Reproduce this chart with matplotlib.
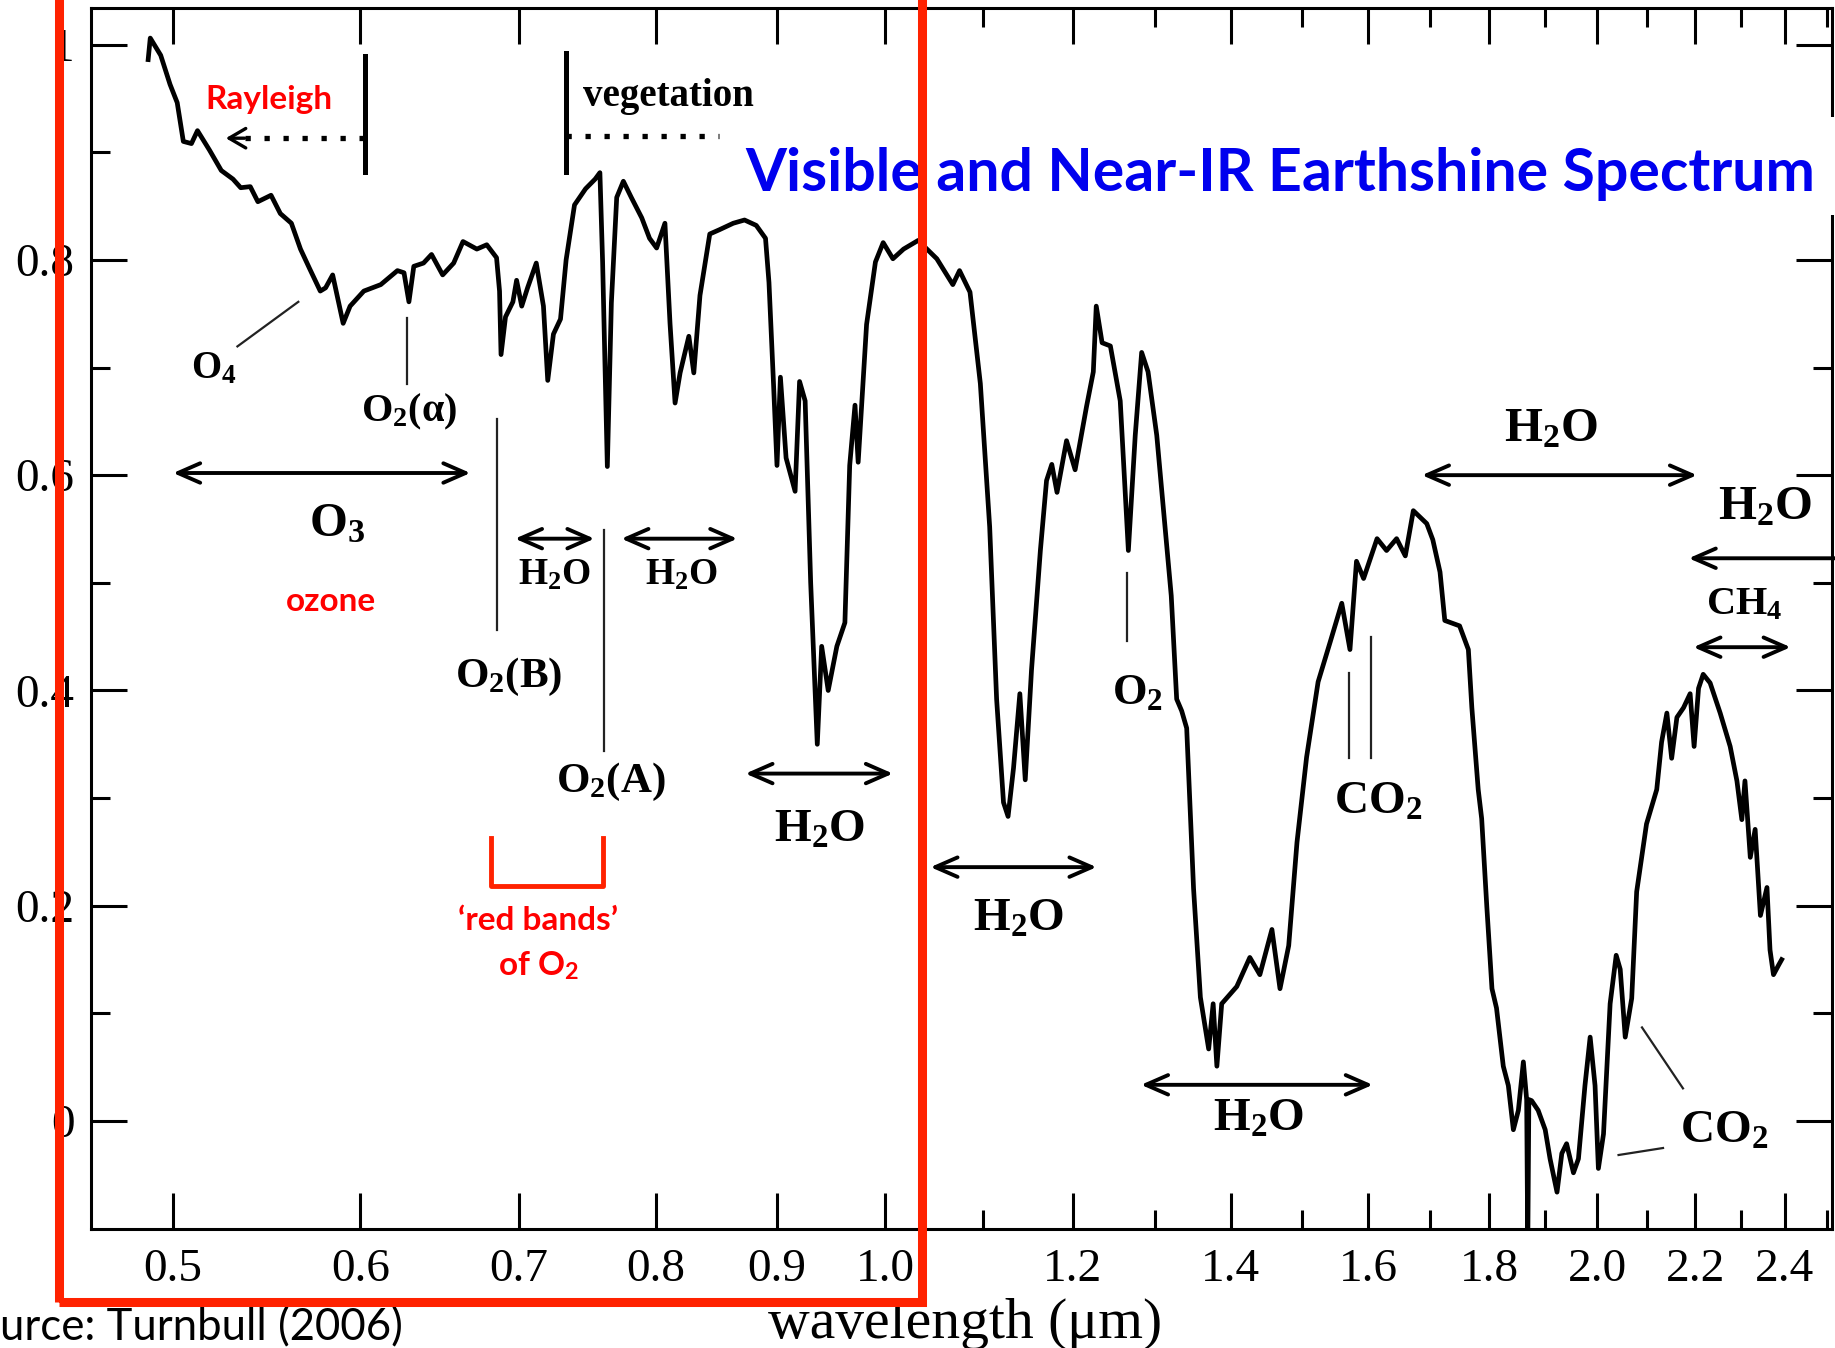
import numpy as np
import matplotlib
matplotlib.use("Agg")
import matplotlib.pyplot as plt
from matplotlib.patches import Rectangle
from matplotlib.ticker import FixedLocator, FixedFormatter, NullFormatter

wavelength = [
    0.488, 0.489, 0.494, 0.4985, 0.502, 0.505, 0.509, 0.512, 0.518, 0.524, 0.530, 0.534, 0.539, 0.543, 0.550,
    0.555, 0.561, 0.566, 0.571, 0.577, 0.580, 0.584, 0.590, 0.594, 0.602, 0.612, 0.622, 0.626, 0.629, 0.632,
    0.638, 0.643, 0.650, 0.657, 0.663, 0.672, 0.6785, 0.685, 0.687, 0.688, 0.691, 0.696, 0.6985, 0.702, 0.706,
    0.712, 0.717, 0.720, 0.724, 0.729, 0.733, 0.739, 0.747, 0.754, 0.7575, 0.7595, 0.763, 0.766, 0.770, 0.775,
    0.781, 0.789, 0.795, 0.8005, 0.807, 0.811, 0.815, 0.819, 0.826, 0.830, 0.835, 0.843, 0.851, 0.8625, 0.872,
    0.882, 0.890, 0.893, 0.897, 0.900, 0.903, 0.908, 0.916, 0.920, 0.925, 0.930, 0.936, 0.940, 0.946, 0.954,
    0.9615, 0.966, 0.971, 0.974, 0.982, 0.9905, 0.998, 1.0075, 1.018, 1.0325, 1.0515, 1.068, 1.075, 1.086, 1.097,
    1.107, 1.1145, 1.122, 1.127, 1.133, 1.140, 1.146, 1.153, 1.163, 1.170, 1.176, 1.182, 1.193, 1.203, 1.2165,
    1.2245, 1.228, 1.235, 1.245, 1.257, 1.267, 1.2755, 1.2835, 1.2915, 1.3025, 1.313, 1.321, 1.328, 1.3345, 1.341,
    1.350, 1.359, 1.370, 1.376, 1.381, 1.3875, 1.408, 1.426, 1.440, 1.457, 1.4685, 1.481, 1.493, 1.507, 1.524,
    1.542, 1.5595, 1.572, 1.582, 1.593, 1.614, 1.629, 1.645, 1.659, 1.672, 1.694, 1.704, 1.716, 1.724, 1.749,
    1.764, 1.770, 1.781, 1.787, 1.796, 1.805, 1.813, 1.825, 1.834, 1.843, 1.852, 1.861, 1.867, 1.869, 1.871,
    1.876, 1.888, 1.901, 1.910, 1.923, 1.932, 1.941, 1.954, 1.9635, 1.976, 1.986, 1.9955, 2.002, 2.012, 2.025,
    2.037, 2.045, 2.055, 2.068, 2.078, 2.098, 2.119, 2.129, 2.140, 2.150, 2.161, 2.175, 2.189, 2.1975, 2.207,
    2.217, 2.232, 2.254, 2.276, 2.291, 2.302, 2.309, 2.321, 2.332, 2.344, 2.359, 2.366, 2.374, 2.386, 2.393,
]
reflectance = [
    0.986, 1.006, 0.990, 0.963, 0.946, 0.910, 0.908, 0.920, 0.902, 0.883, 0.875, 0.867, 0.868, 0.854, 0.860,
    0.843, 0.834, 0.810, 0.792, 0.771, 0.774, 0.786, 0.741, 0.757, 0.771, 0.777, 0.790, 0.788, 0.761, 0.794,
    0.797, 0.805, 0.786, 0.797, 0.817, 0.810, 0.814, 0.802, 0.771, 0.712, 0.747, 0.761, 0.781, 0.757, 0.774,
    0.797, 0.757, 0.688, 0.731, 0.745, 0.800, 0.851, 0.866, 0.875, 0.881, 0.798, 0.608, 0.760, 0.858, 0.873,
    0.858, 0.839, 0.820, 0.811, 0.834, 0.741, 0.667, 0.695, 0.729, 0.695, 0.767, 0.824, 0.828, 0.834, 0.837,
    0.832, 0.820, 0.779, 0.684, 0.609, 0.691, 0.616, 0.585, 0.687, 0.669, 0.500, 0.350, 0.441, 0.400, 0.441,
    0.463, 0.609, 0.665, 0.612, 0.740, 0.798, 0.816, 0.801, 0.810, 0.818, 0.801, 0.777, 0.790, 0.770, 0.685,
    0.552, 0.392, 0.296, 0.283, 0.328, 0.397, 0.317, 0.419, 0.530, 0.595, 0.610, 0.584, 0.632, 0.605, 0.664,
    0.696, 0.757, 0.723, 0.720, 0.669, 0.530, 0.637, 0.714, 0.696, 0.637, 0.552, 0.488, 0.392, 0.381, 0.365,
    0.216, 0.115, 0.067, 0.109, 0.051, 0.109, 0.125, 0.152, 0.136, 0.178, 0.123, 0.163, 0.259, 0.338, 0.408,
    0.445, 0.481, 0.438, 0.520, 0.504, 0.541, 0.530, 0.541, 0.525, 0.567, 0.555, 0.540, 0.510, 0.465, 0.460,
    0.438, 0.384, 0.308, 0.281, 0.199, 0.123, 0.105, 0.051, 0.033, -0.008, 0.010, 0.055, 0.020, -0.120, 0.020,
    0.019, 0.010, -0.008, -0.035, -0.066, -0.030, -0.021, -0.048, -0.035, 0.033, 0.078, 0.033, -0.044, -0.012, 0.109,
    0.154, 0.141, 0.078, 0.114, 0.213, 0.276, 0.308, 0.352, 0.379, 0.337, 0.375, 0.384, 0.397, 0.348, 0.402,
    0.415, 0.407, 0.379, 0.348, 0.316, 0.280, 0.316, 0.245, 0.271, 0.191, 0.217, 0.159, 0.136, 0.145, 0.150,
]

xtick_major = [0.5, 0.6, 0.7, 0.8, 0.9, 1.0, 1.2, 1.4, 1.6, 1.8, 2.0, 2.2, 2.4]
xtick_labels = ["0.5", "0.6", "0.7", "0.8", "0.9", "1.0", "1.2", "1.4", "1.6", "1.8", "2.0", "2.2", "2.4"]
xtick_minor = [1.1, 1.3, 1.5, 1.7, 1.9, 2.1, 2.3, 2.5]
ytick_major = [0, 0.2, 0.4, 0.6, 0.8, 1]
ytick_labels = ["0", "0.2", "0.4", "0.6", "0.8", "1"]
ytick_minor = [0.1, 0.3, 0.5, 0.7, 0.9]

RED = '#ff0000'
BOX_RED = '#ff2200'
SERIF = 'Liberation Serif'

plt.rcParams['font.family'] = SERIF
plt.rcParams['mathtext.fontset'] = 'custom'
plt.rcParams['mathtext.rm'] = 'Liberation Serif:bold'
plt.rcParams['mathtext.it'] = 'Liberation Serif:italic:bold'
plt.rcParams['mathtext.bf'] = 'Liberation Serif:bold'
plt.rcParams['mathtext.sf'] = 'Lato:bold'

fig = plt.figure(figsize=(18.35, 13.48), dpi=100)
ax = fig.add_axes([0.0496, 0.0883, 0.9488, 0.9055])

ax.plot(wavelength, reflectance, color='black', lw=3.4)

ax.set_xscale('log')
ax.set_xlim(0.4616, 2.5133)
ax.set_ylim(-0.1002, 1.0336)

ax.xaxis.set_major_locator(FixedLocator(xtick_major))
ax.xaxis.set_major_formatter(FixedFormatter(xtick_labels))
ax.xaxis.set_minor_locator(FixedLocator(xtick_minor))
ax.xaxis.set_minor_formatter(NullFormatter())
ax.yaxis.set_major_locator(FixedLocator(ytick_major))
ax.yaxis.set_major_formatter(FixedFormatter(ytick_labels))
ax.yaxis.set_minor_locator(FixedLocator(ytick_minor))

ax.tick_params(which='both', direction='in', top=True, right=True, width=2.2)
ax.tick_params(which='major', length=26, labelsize=34)
ax.tick_params(which='minor', length=13.5)
ax.tick_params(axis='x', pad=14)
ax.tick_params(axis='y', pad=12)
for sp in ax.spines.values():
    sp.set_linewidth(2.2)


def label(x, y, s, size=32):
    ax.text(x, y, s, ha='center', va='center', fontsize=size, fontweight='bold', family=SERIF)


def red_label(x, y, s, size=24):
    ax.text(x, y, s, ha='center', va='center', fontsize=size, fontweight='bold', family='Lato', color=RED)


def double_arrow(x0, x1, y):
    ax.annotate('', xy=(x1, y), xytext=(x0, y), annotation_clip=False,
                arrowprops=dict(arrowstyle='<->,head_length=0.8,head_width=0.35', lw=2.8,
                                color='black', shrinkA=0, shrinkB=0, mutation_scale=20))


def thin(xs, ys):
    ax.plot(xs, ys, color='#222222', lw=1.6)


# Rayleigh / vegetation markers
ax.plot([0.6027, 0.6027], [0.8815, 0.989], color='black', lw=3.6)
ax.plot([0.536, 0.6027], [0.913, 0.913], color='black', lw=3.8, ls=(0, (1, 2.6)), dash_capstyle='butt')
ax.annotate('', xy=(0.5263, 0.913), xytext=(0.536, 0.913),
            arrowprops=dict(arrowstyle='->,head_length=0.6,head_width=0.35', lw=2.4, color='black',
                            shrinkA=0, shrinkB=0, mutation_scale=20))
red_label(0.549, 0.949, 'Rayleigh')

ax.plot([0.7332, 0.7332], [0.8815, 0.992], color='black', lw=3.6)
ax.plot([0.7332, 0.851], [0.915, 0.915], color='black', lw=3.8, ls=(0, (1, 2.6)), dash_capstyle='butt')
ax.text(0.745, 0.952, 'vegetation', ha='left', va='center', fontsize=28, fontweight='bold', family=SERIF)

# visible bands
thin([0.5323, 0.5648], [0.7196, 0.761])
label(0.520, 0.699, 'O$_4$', 28)
thin([0.628, 0.628], [0.6848, 0.7457])
label(0.6294, 0.659, 'O$_2$(α)', 29)
double_arrow(0.5, 0.6678, 0.602)
label(0.5864, 0.554, 'O$_3$', 35)
red_label(0.5832, 0.4826, 'ozone')
thin([0.6855, 0.6855], [0.4565, 0.652])
label(0.6934, 0.413, 'O$_2$(B)', 31)
double_arrow(0.6974, 0.7535, 0.541)
label(0.7249, 0.5076, 'H$_2$O', 27)
thin([0.7604, 0.7604], [0.3435, 0.549])
double_arrow(0.7735, 0.8659, 0.541)
label(0.8198, 0.5076, 'H$_2$O', 27)
label(0.7656, 0.315, 'O$_2$(A)', 31)

ax.plot([0.681, 0.681, 0.7595, 0.7595], [0.263, 0.2185, 0.2185, 0.263], color=BOX_RED, lw=3.5)
red_label(0.7134, 0.186, '\u2018red bands\u2019')
red_label(0.7134, 0.1446, 'of O$_\\mathsf{2}$')

# near-IR bands
double_arrow(0.8728, 1.0075, 0.3228)
label(0.9378, 0.2696, 'H$_2$O', 34)
double_arrow(1.045, 1.2283, 0.2359)
label(1.1381, 0.187, 'H$_2$O', 34)
thin([1.2654, 1.2654], [0.4457, 0.5087])
label(1.2783, 0.398, 'O$_2$', 32)
double_arrow(1.2827, 1.6073, 0.0337)
label(1.4376, 0.001, 'H$_2$O', 34)
thin([1.5706, 1.5706], [0.337, 0.4163])
thin([1.6051, 1.6051], [0.337, 0.45])
label(1.6165, 0.2957, 'CO$_2$', 34)
double_arrow(1.6861, 2.2036, 0.600)
label(1.911, 0.6424, 'H$_2$O', 35)
label(2.354, 0.5696, 'H$_2$O', 35)
ax.annotate('', xy=(2.186, 0.5228), xytext=(2.56, 0.5228), annotation_clip=False,
            arrowprops=dict(arrowstyle='->,head_length=0.8,head_width=0.35', lw=2.8, color='black',
                            shrinkA=0, shrinkB=0, mutation_scale=20, clip_on=False))
label(2.3065, 0.4793, 'CH$_4$', 29)
double_arrow(2.196, 2.414, 0.4402)
thin([2.0888, 2.1738], [0.087, 0.0304])
thin([2.0417, 2.132], [-0.0315, -0.025])
label(2.2624, -0.0098, 'CO$_2$', 34)

# title with white backing, x label, source note
fig.add_artist(Rectangle((740 / 1835, 1133 / 1348), 1.0, 98 / 1348, transform=fig.transFigure,
                         facecolor='white', edgecolor='none', zorder=2))
fig.text(745 / 1835, 1157 / 1348, 'Visible and Near-IR Earthshine Spectrum', color='#0000ee',
         fontsize=42.5, fontweight='bold', family='Lato', ha='left', va='baseline', zorder=3)
fig.text(965 / 1835, 10 / 1348, 'wavelength (\u03bcm)', ha='center', va='baseline', fontsize=41.5, family=SERIF)
fig.text(0.0, 20 / 1348, 'urce: Turnbull (2006)', ha='left', va='center', fontsize=31.5, family='Lato')

# red highlight box over the visible part
fig.add_artist(Rectangle((59 / 1835, 46 / 1348), (922 - 59) / 1835, 1.2, transform=fig.transFigure,
                         fill=False, edgecolor=BOX_RED, lw=6.5, zorder=10))

fig.savefig('out.png', dpi=100, facecolor='white')
